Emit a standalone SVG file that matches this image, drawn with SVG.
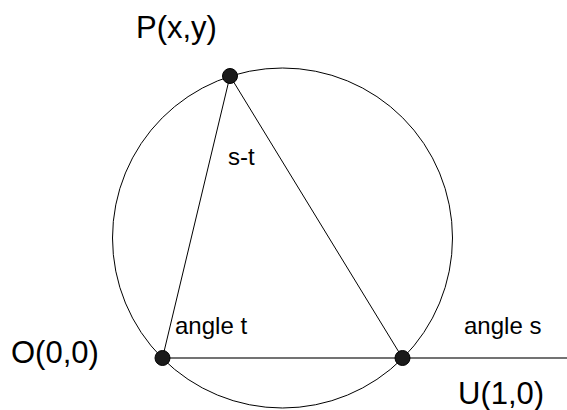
<svg xmlns="http://www.w3.org/2000/svg" width="567" height="410" viewBox="0 0 567 410">
  <style>
    .lbl { font-family: "Liberation Sans", Arial, sans-serif; fill: #000; }
    .big { font-size: 31px; }
    .small { font-size: 24px; }
    .edge { stroke: #000; stroke-width: 1; fill: none; }
    .axis { stroke: #444; stroke-width: 1.5; fill: none; }
    .dot { fill: #1a1a1a; stroke: #000; stroke-width: 1; }
  </style>
  <rect width="567" height="410" fill="#fff"/>
  <g id="circle">
    <circle cx="282.5" cy="238" r="170" class="edge"/>
  </g>
  <g id="connectors">
    <line class="axis" x1="162.5" y1="358" x2="567" y2="358"/>
    <line class="edge" x1="162.5" y1="358" x2="230" y2="76"/>
    <line class="edge" x1="230" y1="76" x2="402.5" y2="358"/>
  </g>
  <g id="P">
    <circle class="dot" cx="230" cy="76" r="7.5"/>
    <text class="lbl big" x="136" y="37.5">P(x,y)</text>
  </g>
  <g id="O">
    <circle class="dot" cx="162.5" cy="358" r="7.5"/>
    <text class="lbl big" x="11" y="362.5">O(0,0)</text>
  </g>
  <g id="U">
    <circle class="dot" cx="402.5" cy="358" r="7.5"/>
    <text class="lbl big" x="458" y="403.5">U(1,0)</text>
  </g>
  <g id="labels">
    <text class="lbl small" x="175" y="334">angle t</text>
    <text class="lbl small" x="464" y="334">angle s</text>
    <text class="lbl small" x="228" y="165">s-t</text>
  </g>
</svg>
